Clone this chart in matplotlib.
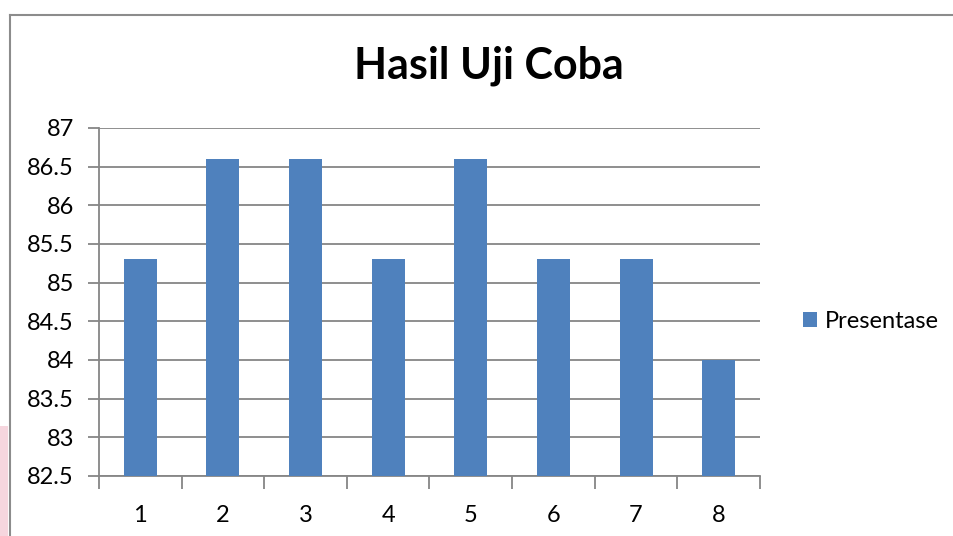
import matplotlib
matplotlib.use("Agg")
import matplotlib.pyplot as plt
from matplotlib.lines import Line2D
from matplotlib.patches import Rectangle
import numpy as np

# ── Data ──────────────────────────────────────────────────────────────────────
categories = ["1", "2", "3", "4", "5", "6", "7", "8"]
presentase = [85.3, 86.6, 86.6, 85.3, 86.6, 85.3, 85.3, 84.0]
y_ticks    = [82.5, 83, 83.5, 84, 84.5, 85, 85.5, 86, 86.5, 87]

BAR_COLOR  = "#4F81BD"
GRID_COLOR = "#868686"

plt.rcParams["font.family"] = ["Lato", "DejaVu Sans"]

fig = plt.figure(figsize=(9.54, 5.36), dpi=100)
ax = fig.add_axes([99 / 954, 1 - 476 / 536, (760 - 99) / 954, (476 - 128) / 536])

x = np.arange(1, len(categories) + 1)
ax.bar(x, presentase, width=0.4, color=BAR_COLOR, zorder=3, label="Presentase")

ax.set_xlim(0.5, len(categories) + 0.5)
ax.set_ylim(y_ticks[0], y_ticks[-1])
ax.set_yticks(y_ticks)
ax.set_yticklabels([f"{v:g}" for v in y_ticks])
ax.set_xticks(x)
ax.set_xticklabels(categories)
ax.set_xticks(np.arange(0.5, len(categories) + 1), minor=True)

ax.grid(axis="y", color=GRID_COLOR, linewidth=1.3, zorder=0)
for side in ["top", "right"]:
    ax.spines[side].set_visible(False)
for side in ["left", "bottom"]:
    ax.spines[side].set_color(GRID_COLOR)
    ax.spines[side].set_linewidth(1.3)

ax.tick_params(axis="x", which="major", length=0, pad=21, labelsize=17)
ax.tick_params(axis="x", which="minor", length=9, width=1.3, color=GRID_COLOR)
ax.tick_params(axis="y", length=8, width=1.3, color=GRID_COLOR, pad=10, labelsize=17)

fig.text(489 / 954, 1 - 66 / 536, "Hasil Uji Coba", ha="center", va="center",
         fontsize=31, fontweight="bold")

fig.legend(loc="center left", bbox_to_anchor=(803 / 954, 1 - 321 / 536),
           frameon=False, fontsize=17, handlelength=0.6, handleheight=0.6,
           handletextpad=0.34, borderpad=0, borderaxespad=0)

# chart frame (left and top edges visible)
fig.add_artist(Line2D([10 / 954, 10 / 954], [0, 1 - 15 / 536],
                      transform=fig.transFigure, color="#8c8c8c", linewidth=1.5))
fig.add_artist(Line2D([10 / 954, 1], [1 - 15 / 536, 1 - 15 / 536],
                      transform=fig.transFigure, color="#8c8c8c", linewidth=1.5))
# faint pink edge at the lower left
fig.add_artist(Rectangle((0, 0), 8 / 954, 110 / 536, transform=fig.transFigure,
                         color="#f6d6de", linewidth=0))

plt.savefig("out.png", dpi=100)
